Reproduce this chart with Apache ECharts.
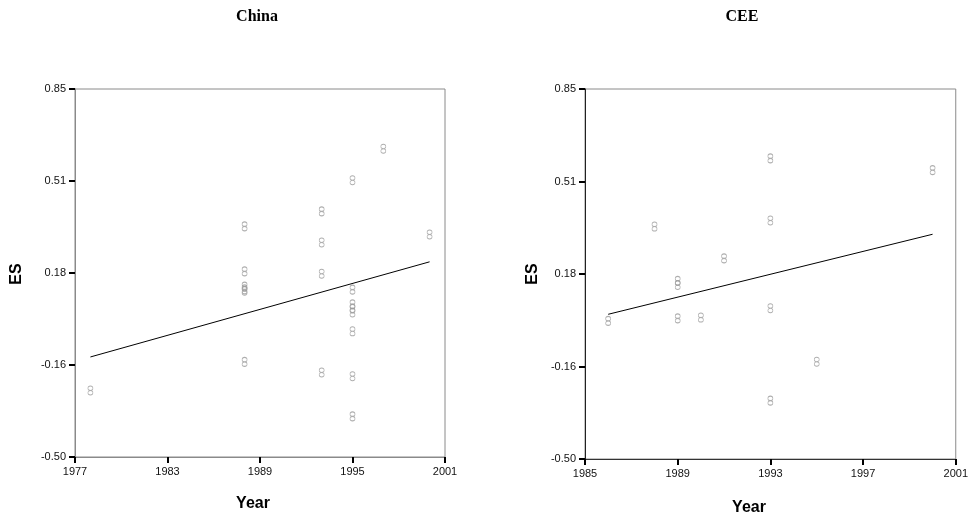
<!DOCTYPE html>
<html>
<head>
<meta charset="utf-8">
<script src="https://cdn.jsdelivr.net/npm/echarts@6/dist/echarts.min.js"></script>
<style>
html,body{margin:0;padding:0;background:#fff;}
#chart{width:971px;height:522px;}
</style>
</head>
<body>
<div id="chart"></div>
<script>
// ---- Data ----
const chinaYear = [1978, 1988, 1988, 1988, 1988, 1988, 1988, 1993, 1993, 1993, 1993, 1995, 1995, 1995, 1995, 1995, 1995, 1995, 1995, 1997, 2000];
const chinaES   = [-0.256, 0.346, 0.181, 0.125, 0.115, 0.110, -0.151, 0.401, 0.287, 0.172, -0.190, 0.515, 0.114, 0.060, 0.045, 0.030, -0.039, -0.204, -0.351, 0.631, 0.316];
const chinaFitYear = [1978, 2000];
const chinaFitES   = [-0.133, 0.216];

const ceeYear = [1986, 1988, 1989, 1989, 1989, 1990, 1991, 1993, 1993, 1993, 1993, 1995, 2000];
const ceeES   = [0.004, 0.348, 0.150, 0.135, 0.013, 0.016, 0.232, 0.597, 0.370, 0.050, -0.287, -0.145, 0.554];
const ceeFitYear = [1986, 2000];
const ceeFitES   = [0.028, 0.320];

const yTickValues = [-0.5, -0.1625, 0.175, 0.5125, 0.85];
const yTickLabels = ['-0.50', '-0.16', '0.18', '0.51', '0.85'];
const chinaXTicks = [1977, 1983, 1989, 1995, 2001];
const ceeXTicks   = [1985, 1989, 1993, 1997, 2001];
const titles = ['China', 'CEE'];
const xName = 'Year';
const yName = 'ES';

// ---- Chart ----
const chart = echarts.init(document.getElementById('chart'), null, {renderer: 'canvas'});

const marker = 'path://M2.5,0 C3.9,0 5,1 5,2.3 C5,3.6 3.9,4.5 2.5,4.5 C1.1,4.5 0,3.6 0,2.3 C0,1 1.1,0 2.5,0 Z M2.5,4.5 C3.9,4.5 5,5.5 5,6.8 C5,8.1 3.9,9 2.5,9 C1.1,9 0,8.1 0,6.8 C0,5.5 1.1,4.5 2.5,4.5 Z';

function pairs(xs, ys){ return xs.map((x,i)=>[x, ys[i]]); }
function yLabel(v){
  let best = 0, d = Infinity;
  yTickValues.forEach((t,i)=>{ const dd = Math.abs(t - v); if (dd < d){ d = dd; best = i; } });
  return yTickLabels[best];
}

const labelFont = {fontFamily: 'Liberation Sans, Arial, sans-serif', fontSize: 11, color: '#111'};

function xAxis(gridIndex, ticks, axisColor){
  return {
    type: 'value', gridIndex, min: ticks[0], max: ticks[ticks.length-1],
    axisLine: {show: true, onZero: false, lineStyle: {color: axisColor, width: 1}},
    axisTick: {show: true, customValues: ticks, length: 6, lineStyle: {color: '#000', width: 2}},
    axisLabel: Object.assign({show: true, customValues: ticks, margin: 9, formatter: v => String(Math.round(v))}, labelFont),
    splitLine: {show: false}
  };
}
function yAxis(gridIndex, axisColor){
  return {
    type: 'value', gridIndex, min: yTickValues[0], max: yTickValues[yTickValues.length-1],
    axisLine: {show: true, onZero: false, lineStyle: {color: axisColor, width: 1}},
    axisTick: {show: true, customValues: yTickValues, length: 6, lineStyle: {color: '#000', width: 2}},
    axisLabel: Object.assign({show: true, customValues: yTickValues, margin: 9, formatter: yLabel}, labelFont),
    splitLine: {show: false}
  };
}

const scatterStyle = {color: 'rgba(0,0,0,0)', borderColor: '#9a9a9a', borderWidth: 0.8};

const titleFont = {fontFamily: 'Liberation Serif, Times New Roman, serif', fontSize: 16, fontWeight: 'bold', fill: '#000'};
const nameFont = {fontFamily: 'Liberation Sans, Arial, sans-serif', fontSize: 16, fontWeight: 'bold', fill: '#000'};

const option = {
  animation: false,
  backgroundColor: '#fff',
  grid: [
    {left: 75, top: 89, width: 370, height: 368, show: true, borderColor: '#8a8a8a', borderWidth: 1, backgroundColor: 'transparent'},
    {left: 585, top: 89, width: 371, height: 370, show: true, borderColor: '#8a8a8a', borderWidth: 1, backgroundColor: 'transparent'}
  ],
  xAxis: [xAxis(0, chinaXTicks, '#8a8a8a'), xAxis(1, ceeXTicks, '#333')],
  yAxis: [yAxis(0, '#8a8a8a'), yAxis(1, '#222')],
  graphic: [
    {type: 'text', x: 257, y: 17, style: Object.assign({text: titles[0], textAlign: 'center', textVerticalAlign: 'middle'}, titleFont)},
    {type: 'text', x: 742, y: 17, style: Object.assign({text: titles[1], textAlign: 'center', textVerticalAlign: 'middle'}, titleFont)},
    {type: 'text', x: 253, y: 504, style: Object.assign({text: xName, textAlign: 'center', textVerticalAlign: 'middle'}, nameFont)},
    {type: 'text', x: 749, y: 508, style: Object.assign({text: xName, textAlign: 'center', textVerticalAlign: 'middle'}, nameFont)},
    {type: 'text', x: 17, y: 274, rotation: Math.PI/2, style: Object.assign({text: yName, textAlign: 'center', textVerticalAlign: 'middle'}, nameFont)},
    {type: 'text', x: 533, y: 274, rotation: Math.PI/2, style: Object.assign({text: yName, textAlign: 'center', textVerticalAlign: 'middle'}, nameFont)}
  ],
  series: [
    {type: 'scatter', xAxisIndex: 0, yAxisIndex: 0, data: pairs(chinaYear, chinaES), symbol: marker, symbolSize: [5, 9], itemStyle: scatterStyle, silent: true},
    {type: 'line', xAxisIndex: 0, yAxisIndex: 0, data: pairs(chinaFitYear, chinaFitES), showSymbol: false, symbol: 'none', lineStyle: {color: '#000', width: 1}, silent: true},
    {type: 'scatter', xAxisIndex: 1, yAxisIndex: 1, data: pairs(ceeYear, ceeES), symbol: marker, symbolSize: [5, 9], itemStyle: scatterStyle, silent: true},
    {type: 'line', xAxisIndex: 1, yAxisIndex: 1, data: pairs(ceeFitYear, ceeFitES), showSymbol: false, symbol: 'none', lineStyle: {color: '#000', width: 1}, silent: true}
  ]
};
chart.setOption(option);
</script>
</body>
</html>
